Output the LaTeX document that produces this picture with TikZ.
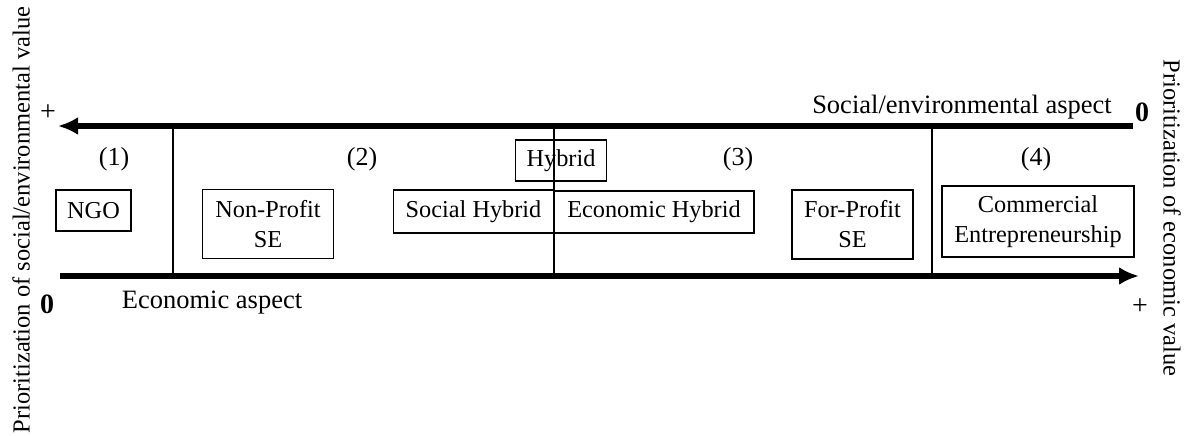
\documentclass[tikz,border=0pt]{standalone}
\usepackage{fontspec}
\setmainfont{Liberation Serif}
\usetikzlibrary{arrows.meta}
\begin{document}
\begin{tikzpicture}[x=1pt,y=-1pt,
  axis/.style={line width=5.5pt,-{Latex[length=20pt,width=18pt]}},
  divider/.style={line width=2.8pt},
  catbox/.style={draw,line width=1.2pt,inner sep=0pt,align=center,
    font=\fontsize{24.3}{30}\selectfont},
  numlab/.style={inner sep=0pt,font=\fontsize{26}{30}\selectfont},
  axlab/.style={inner sep=0pt,font=\fontsize{26.5}{30}\selectfont},
  sidelab/.style={inner sep=0pt,font=\fontsize{24.5}{30}\selectfont},
  signlab/.style={inner sep=0pt,font=\fontsize{28}{30}\selectfont}]
\useasboundingbox (0,0) rectangle (1188,436);
% axis end points
\coordinate (topR) at (1133,126);
\coordinate (topL) at (58,126);
\coordinate (botL) at (60,276);
\coordinate (botR) at (1139,276);
% divider end points
\coordinate (d1t) at (173,126); \coordinate (d1b) at (173,276);
\coordinate (d2t) at (554,126); \coordinate (d2b) at (554,276);
\coordinate (d3t) at (932,126); \coordinate (d3b) at (932,276);
% boxes
\node[catbox,minimum width=75pt,minimum height=41pt] (ngo) at (93.5,210.5) {NGO};
\node[catbox,minimum width=131pt,minimum height=69pt] (npse) at (268,224) {Non-Profit\\SE};
\node[catbox,minimum width=91pt,minimum height=41pt] (hyb) at (561,160.5) {Hybrid};
\node[catbox,minimum width=160pt,minimum height=43pt] (shyb) at (473.5,211.5) {Social Hybrid};
\node[catbox,minimum width=200pt,minimum height=42pt] (ehyb) at (654,212) {Economic Hybrid};
\node[catbox,minimum width=121pt,minimum height=69pt] (fpse) at (852.5,224.5) {For-Profit\\SE};
\node[catbox,minimum width=192pt,minimum height=71pt] (ce) at (1038,221.5) {Commercial\\Entrepreneurship};
% numbers
\node[numlab] (n1) at (114,159) {(1)};
\node[numlab] (n2) at (362,159) {(2)};
\node[numlab] (n3) at (738,159) {(3)};
\node[numlab] (n4) at (1036,159) {(4)};
% axes
\draw[axis] (topR) -- (topL);
\draw[axis] (botL) -- (botR);
\draw[divider] (d1t) -- (d1b);
\draw[divider] (d2t) -- (d2b);
\draw[divider] (d3t) -- (d3b);
% axis labels
\node[axlab] (soc) at (962,107) {Social/environmental aspect};
\node[axlab] (eco) at (212,303) {Economic aspect};
\node[signlab] (p1) at (48,113) {+};
\node[signlab] (z1) at (47,304) {\textbf{0}};
\node[signlab] (z2) at (1142,112) {\textbf{0}};
\node[signlab] (p2) at (1140,307) {+};
% side labels
\node[sidelab,rotate=90] (lside) at (21,220) {Prioritization of social/environmental value};
\node[sidelab,rotate=-90] (rside) at (1172,218) {Prioritization of economic value};
\end{tikzpicture}
\end{document}
